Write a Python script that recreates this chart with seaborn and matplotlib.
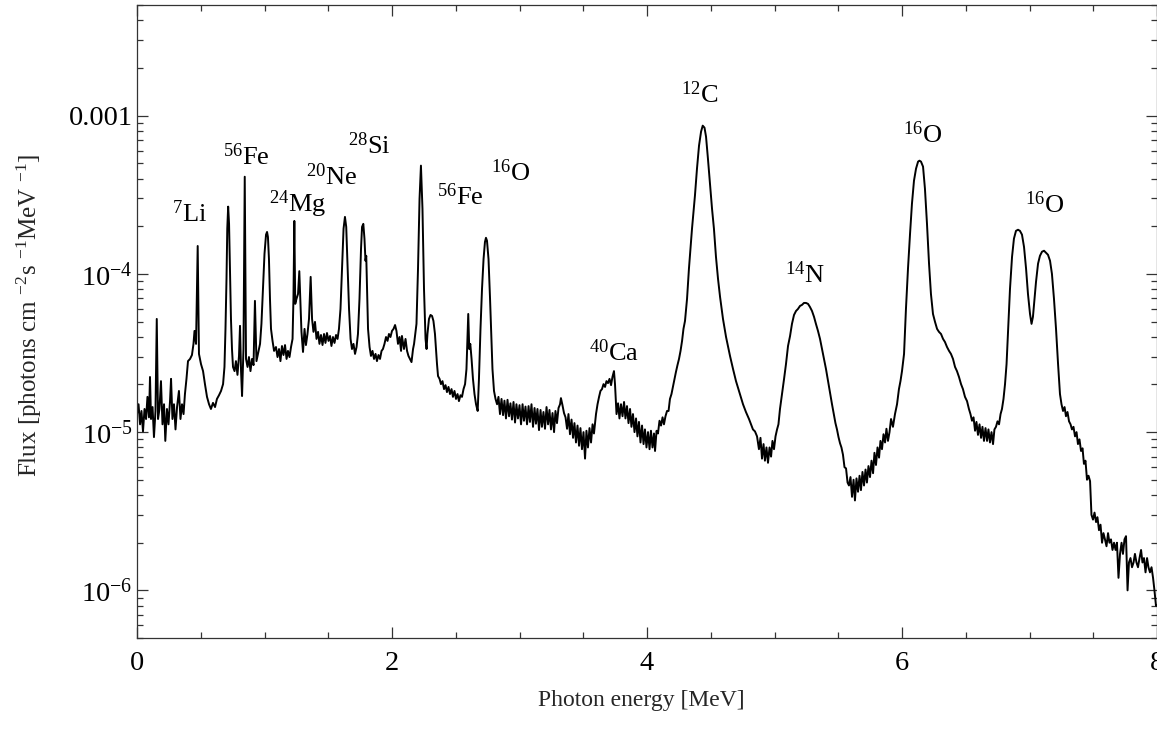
import numpy as np
import pandas as pd
import seaborn as sns
import matplotlib
matplotlib.use("Agg")
import matplotlib.pyplot as plt
from matplotlib.ticker import FixedLocator, MultipleLocator, LogLocator, NullFormatter

# Gamma-ray line spectrum: photon energy [MeV] and flux in units of 1e-5 photons cm^-2 s^-1 MeV^-1
energy_0 = [0.000, 0.012, 0.024, 0.035, 0.047, 0.059, 0.071, 0.082, 0.094, 0.102, 0.110, 0.122, 0.133, 0.145, 0.155, 0.165, 0.176, 0.188, 0.200, 0.212, 0.222, 0.235, 0.247, 0.259, 0.267, 0.278, 0.290, 0.302, 0.314, 0.329, 0.341, 0.353, 0.365, 0.376, 0.388, 0.400, 0.416, 0.431, 0.443, 0.451, 0.463, 0.476, 0.486, 0.502, 0.518, 0.533, 0.549, 0.565, 0.580, 0.596, 0.612, 0.627, 0.643, 0.659, 0.675, 0.686, 0.694, 0.702, 0.708, 0.715, 0.722, 0.729, 0.737, 0.745, 0.753]
flux_0 = [1.30, 1.50, 1.12, 1.36, 1.01, 1.40, 1.21, 1.67, 1.24, 2.23, 1.21, 1.44, 0.93, 1.36, 5.19, 1.21, 1.40, 2.10, 1.12, 1.50, 0.88, 1.40, 1.12, 1.57, 2.17, 1.21, 1.50, 1.04, 1.44, 1.82, 1.21, 1.50, 1.30, 1.74, 2.17, 2.81, 2.90, 3.07, 3.61, 4.36, 3.61, 15.0, 3.12, 2.69, 2.43, 2.01, 1.67, 1.50, 1.40, 1.53, 1.44, 1.62, 1.71, 1.82, 2.01, 2.58, 4.49, 9.30, 19.3, 26.6, 20.7, 10.8, 5.19, 3.35, 2.58]

energy_1 = [0.765, 0.776, 0.788, 0.800, 0.808, 0.816, 0.824, 0.835, 0.845, 0.855, 0.867, 0.878, 0.890, 0.902, 0.914, 0.925, 0.937, 0.949, 0.965, 0.976, 0.988, 1.000, 1.012, 1.020, 1.027, 1.035, 1.043, 1.051, 1.063, 1.075, 1.090, 1.102, 1.114, 1.125, 1.137, 1.149, 1.161, 1.173, 1.184, 1.196, 1.208, 1.220, 1.227, 1.234, 1.241, 1.251, 1.263, 1.273, 1.281]
flux_1 = [2.43, 2.81, 2.30, 3.03, 4.69, 2.43, 1.69, 3.35, 41.1, 2.90, 2.58, 2.98, 2.43, 2.90, 2.65, 6.75, 2.81, 3.12, 3.61, 4.83, 8.04, 13.4, 17.7, 18.4, 17.1, 12.4, 6.95, 4.49, 3.77, 3.26, 3.45, 2.98, 3.35, 2.81, 3.50, 3.07, 3.55, 2.90, 3.26, 2.98, 3.45, 3.88, 6.95, 21.6, 6.46, 6.95, 7.47, 10.4, 6.95]

energy_2 = [1.290, 1.302, 1.314, 1.325, 1.337, 1.349, 1.362, 1.373, 1.384, 1.396, 1.408, 1.420, 1.431, 1.443, 1.455, 1.467, 1.478, 1.490, 1.502, 1.514, 1.525, 1.537, 1.549, 1.561, 1.573, 1.584, 1.596, 1.608, 1.620, 1.631, 1.641, 1.651, 1.663, 1.675, 1.686, 1.698, 1.710, 1.722, 1.733, 1.745, 1.757, 1.765, 1.775, 1.784, 1.792, 1.798, 1.804, 1.812, 1.824, 1.835, 1.847, 1.859, 1.871, 1.882, 1.894, 1.906, 1.918, 1.929, 1.941, 1.953, 1.965, 1.976, 1.988, 2.000, 2.012, 2.024, 2.035, 2.047, 2.059]
flux_2 = [4.30, 3.21, 4.49, 3.55, 4.17, 5.19, 9.57, 5.19, 4.30, 4.97, 3.88, 4.30, 3.61, 4.11, 3.55, 4.17, 3.66, 4.23, 3.77, 4.05, 3.50, 3.99, 3.66, 4.11, 3.88, 4.49, 6.00, 10.8, 19.3, 22.9, 19.8, 11.6, 6.00, 3.88, 3.35, 3.61, 3.12, 3.45, 4.17, 6.95, 14.4, 19.8, 20.7, 16.7, 12.1, 13.0, 8.04, 4.49, 3.45, 3.03, 3.26, 2.90, 3.12, 2.81, 3.07, 2.90, 3.26, 3.35, 3.61, 3.99, 3.77, 4.17, 3.99, 4.36, 4.49, 4.75, 4.36, 3.61, 3.99]

energy_3 = [2.071, 2.078, 2.094, 2.106, 2.118, 2.129, 2.141, 2.153, 2.165, 2.173, 2.192, 2.204, 2.216, 2.227, 2.239, 2.251, 2.263, 2.271, 2.278, 2.290, 2.302, 2.314, 2.325, 2.337, 2.345, 2.353, 2.361, 2.373, 2.384, 2.396, 2.408, 2.420, 2.431, 2.443, 2.455, 2.467, 2.478, 2.490, 2.502, 2.514, 2.525, 2.537, 2.549, 2.561, 2.573, 2.584, 2.598, 2.606, 2.614, 2.624, 2.635, 2.647, 2.659, 2.672, 2.682, 2.694, 2.706, 2.718, 2.729, 2.737, 2.745, 2.757, 2.769, 2.780, 2.788, 2.800, 2.812, 2.824, 2.835]
flux_3 = [3.26, 4.05, 3.35, 3.88, 3.26, 3.03, 2.90, 2.77, 3.35, 3.61, 4.83, 10.8, 29.8, 48.3, 25.8, 8.04, 3.88, 3.35, 4.17, 5.19, 5.50, 5.42, 5.04, 4.17, 3.35, 2.69, 2.26, 2.17, 2.01, 2.10, 1.87, 1.98, 1.79, 1.93, 1.74, 1.87, 1.67, 1.82, 1.62, 1.74, 1.57, 1.71, 1.67, 1.87, 2.01, 2.50, 5.58, 3.35, 3.61, 2.90, 2.17, 1.74, 1.50, 1.36, 2.17, 4.49, 8.04, 12.4, 15.9, 16.9, 16.2, 12.4, 6.95, 3.88, 2.50, 1.82, 1.62, 1.50, 1.67]

energy_4 = [2.847, 2.859, 2.871, 2.882, 2.894, 2.906, 2.918, 2.929, 2.941, 2.953, 2.965, 2.976, 2.988, 3.000, 3.012, 3.024, 3.035, 3.047, 3.059, 3.071, 3.082, 3.094, 3.106, 3.118, 3.129, 3.141, 3.153, 3.165, 3.176, 3.188, 3.200, 3.212, 3.224, 3.235, 3.247, 3.259, 3.271, 3.282, 3.294, 3.306, 3.318, 3.325, 3.337, 3.349, 3.361, 3.373, 3.384, 3.396, 3.408, 3.420, 3.431, 3.443, 3.455, 3.467, 3.478, 3.490, 3.502, 3.514, 3.525, 3.537, 3.549, 3.561, 3.573, 3.584, 3.600, 3.612, 3.624]
flux_4 = [1.30, 1.62, 1.28, 1.58, 1.22, 1.60, 1.26, 1.52, 1.20, 1.55, 1.15, 1.50, 1.22, 1.48, 1.12, 1.50, 1.18, 1.45, 1.12, 1.46, 1.16, 1.50, 1.08, 1.42, 1.13, 1.40, 1.03, 1.38, 1.08, 1.34, 1.05, 1.44, 1.12, 1.38, 1.04, 1.32, 1.00, 1.36, 1.14, 1.42, 1.50, 1.64, 1.48, 1.32, 1.24, 1.05, 1.30, 0.97, 1.20, 0.92, 1.14, 0.86, 1.10, 0.82, 1.06, 0.78, 1.00, 0.68, 1.02, 0.80, 1.06, 0.86, 1.12, 0.98, 1.30, 1.50, 1.67]

energy_5 = [3.635, 3.647, 3.659, 3.671, 3.682, 3.694, 3.706, 3.718, 3.729, 3.741, 3.749, 3.761, 3.773, 3.784, 3.796, 3.808, 3.820, 3.831, 3.843, 3.855, 3.867, 3.878, 3.890, 3.902, 3.914, 3.925, 3.937, 3.949, 3.961, 3.973, 3.984, 3.996, 4.008, 4.020, 4.031, 4.043, 4.055, 4.063, 4.075, 4.086, 4.098, 4.110, 4.122, 4.133, 4.145, 4.157, 4.169, 4.180, 4.192, 4.204, 4.216, 4.227, 4.239, 4.251, 4.263, 4.275, 4.286, 4.298, 4.314, 4.329, 4.353, 4.376, 4.392, 4.408, 4.424, 4.437, 4.451, 4.463, 4.478, 4.494, 4.510, 4.525, 4.541, 4.557, 4.573]
flux_5 = [1.82, 1.87, 2.01, 1.93, 2.10, 2.04, 2.17, 1.98, 2.23, 2.43, 2.01, 1.30, 1.52, 1.22, 1.50, 1.26, 1.55, 1.22, 1.46, 1.14, 1.40, 1.08, 1.30, 1.00, 1.22, 0.94, 1.16, 0.86, 1.10, 0.84, 1.04, 0.80, 1.00, 0.78, 1.02, 0.80, 0.98, 0.76, 1.02, 0.98, 1.18, 1.10, 1.24, 1.12, 1.26, 1.36, 1.36, 1.62, 1.74, 1.95, 2.17, 2.40, 2.65, 2.90, 3.26, 3.77, 4.49, 5.04, 6.95, 10.8, 19.3, 31.2, 46.2, 64.6, 79.2, 86.4, 83.9, 73.6, 53.4, 37.1, 25.8, 19.3, 12.8, 9.30, 7.15]

energy_6 = [4.596, 4.620, 4.651, 4.675, 4.698, 4.729, 4.753, 4.776, 4.800, 4.816, 4.831, 4.847, 4.863, 4.878, 4.890, 4.902, 4.914, 4.925, 4.937, 4.949, 4.961, 4.973, 4.984, 4.996, 5.008, 5.020, 5.031, 5.043, 5.059, 5.075, 5.090, 5.106, 5.122, 5.137, 5.153, 5.169, 5.184, 5.200, 5.216, 5.231, 5.247, 5.263, 5.278, 5.294, 5.310, 5.325, 5.341, 5.357, 5.373, 5.388, 5.404, 5.420, 5.435, 5.451, 5.467, 5.478, 5.490, 5.502, 5.514, 5.525, 5.537, 5.549, 5.561, 5.573, 5.584, 5.596, 5.608, 5.620, 5.631, 5.643, 5.655, 5.667, 5.678, 5.690, 5.702, 5.714, 5.725, 5.737, 5.749, 5.761, 5.773, 5.784, 5.796, 5.808, 5.820, 5.831, 5.843, 5.855, 5.867, 5.878, 5.890, 5.902, 5.914]
flux_6 = [5.19, 3.99, 3.03, 2.50, 2.10, 1.74, 1.50, 1.34, 1.21, 1.12, 1.04, 1.01, 0.94, 0.78, 0.92, 0.68, 0.84, 0.66, 0.80, 0.64, 0.80, 0.70, 0.88, 0.78, 0.94, 1.04, 1.12, 1.40, 1.74, 2.17, 2.69, 3.50, 4.05, 4.83, 5.50, 5.83, 6.00, 6.27, 6.37, 6.55, 6.55, 6.46, 6.18, 5.83, 5.35, 4.83, 4.36, 3.88, 3.35, 2.90, 2.50, 2.10, 1.77, 1.50, 1.28, 1.14, 1.04, 0.93, 0.85, 0.80, 0.72, 0.60, 0.59, 0.48, 0.46, 0.52, 0.39, 0.50, 0.37, 0.51, 0.42, 0.53, 0.43, 0.56, 0.46, 0.58, 0.48, 0.61, 0.52, 0.66, 0.55, 0.74, 0.62, 0.80, 0.69, 0.88, 0.78, 0.97, 0.86, 1.05, 0.88, 1.00, 1.21]

energy_7 = [5.929, 5.945, 5.961, 5.976, 5.988, 6.000, 6.016, 6.031, 6.047, 6.063, 6.078, 6.094, 6.110, 6.126, 6.137, 6.149, 6.165, 6.180, 6.196, 6.212, 6.227, 6.243, 6.259, 6.275, 6.290, 6.306, 6.322, 6.337, 6.353, 6.369, 6.384, 6.400, 6.416, 6.431, 6.447, 6.463, 6.478, 6.494, 6.510, 6.525, 6.537, 6.549, 6.561, 6.573, 6.584, 6.596, 6.608, 6.620, 6.631, 6.643, 6.655, 6.667, 6.678, 6.690, 6.702, 6.714, 6.725, 6.737, 6.749, 6.761, 6.773, 6.784, 6.796, 6.808, 6.820, 6.831, 6.847, 6.863, 6.878, 6.894, 6.910, 6.925, 6.941, 6.957, 6.973, 6.988, 7.004, 7.016, 7.027, 7.039, 7.051, 7.067, 7.082, 7.098, 7.114, 7.129, 7.145, 7.161, 7.176, 7.192, 7.208, 7.224, 7.239]
flux_7 = [1.08, 1.30, 1.50, 1.87, 2.10, 2.43, 3.12, 6.00, 10.8, 17.9, 27.7, 38.8, 46.2, 51.2, 51.9, 51.2, 47.6, 34.5, 20.7, 11.6, 7.47, 5.58, 4.97, 4.49, 4.30, 4.17, 3.88, 3.71, 3.45, 3.26, 3.12, 2.90, 2.58, 2.43, 2.23, 2.01, 1.87, 1.67, 1.57, 1.40, 1.30, 1.18, 1.24, 1.02, 1.16, 0.96, 1.12, 0.92, 1.08, 0.88, 1.06, 0.88, 1.04, 0.86, 1.00, 0.84, 1.04, 1.08, 1.17, 1.12, 1.30, 1.40, 1.62, 2.01, 2.69, 4.17, 8.04, 12.8, 16.7, 18.7, 19.0, 18.7, 17.7, 14.8, 10.8, 7.47, 5.58, 4.83, 5.35, 6.95, 8.89, 11.6, 13.0, 13.8, 14.0, 13.6, 13.2, 12.1, 10.0, 6.95, 4.49, 2.69, 1.74]

energy_8 = [7.251, 7.263, 7.275, 7.286, 7.298, 7.310, 7.322, 7.333, 7.345, 7.357, 7.369, 7.380, 7.392, 7.404, 7.416, 7.427, 7.439, 7.451, 7.463, 7.475, 7.486, 7.498, 7.510, 7.522, 7.533, 7.545, 7.557, 7.569, 7.580, 7.592, 7.604, 7.616, 7.627, 7.639, 7.651, 7.663, 7.675, 7.686, 7.698, 7.710, 7.722, 7.733, 7.745, 7.757, 7.769, 7.780, 7.792, 7.804, 7.816, 7.827, 7.839, 7.851, 7.863, 7.875, 7.886, 7.898, 7.910, 7.922, 7.933, 7.945, 7.957, 7.969, 7.980, 7.992, 8.000]
flux_8 = [1.50, 1.36, 1.44, 1.26, 1.34, 1.17, 1.12, 1.04, 1.08, 0.94, 1.00, 0.84, 0.90, 0.76, 0.79, 0.63, 0.66, 0.50, 0.53, 0.49, 0.30, 0.28, 0.31, 0.27, 0.29, 0.24, 0.26, 0.20, 0.23, 0.21, 0.19, 0.23, 0.20, 0.21, 0.18, 0.20, 0.18, 0.20, 0.12, 0.17, 0.20, 0.17, 0.21, 0.22, 0.10, 0.15, 0.16, 0.14, 0.15, 0.17, 0.15, 0.14, 0.16, 0.18, 0.15, 0.16, 0.13, 0.16, 0.14, 0.13, 0.14, 0.12, 0.10, 0.08, 0.08]

# Line identifications: text, energy [MeV], flux position
line_labels = [r"$^{7}$Li", r"$^{56}$Fe", r"$^{24}$Mg", r"$^{20}$Ne", r"$^{28}$Si", r"$^{56}$Fe",
               r"$^{16}$O", r"$^{40}$Ca", r"$^{12}$C", r"$^{14}$N", r"$^{16}$O", r"$^{16}$O"]
label_energy = [0.41, 0.855, 1.263, 1.529, 1.820, 2.533, 2.933, 3.741, 4.416, 5.239, 6.165, 7.122]
label_flux = [2.4e-4, 5.5e-4, 2.77e-4, 4.11e-4, 6.46e-4, 3.07e-4, 4.36e-4, 3.16e-5, 1.36e-3, 9.86e-5, 7.58e-4, 2.73e-4]

y_ticks = [1e-6, 1e-5, 1e-4, 1e-3]
y_tick_labels = [r"$10^{-6}$", r"$10^{-5}$", r"$10^{-4}$", "0.001"]
x_ticks = [0, 2, 4, 6, 8]

segments = [(energy_0, flux_0), (energy_1, flux_1), (energy_2, flux_2), (energy_3, flux_3),
            (energy_4, flux_4), (energy_5, flux_5), (energy_6, flux_6), (energy_7, flux_7),
            (energy_8, flux_8)]
for e, f in segments:
    assert len(e) == len(f), (len(e), len(f))

spectrum = pd.DataFrame({
    "energy": np.concatenate([e for e, _ in segments]),
    "flux": np.concatenate([f for _, f in segments]) * 1e-5,
})

sns.set_theme(style="ticks")
plt.rcParams["font.family"] = ["Liberation Serif", "DejaVu Serif"]
plt.rcParams["mathtext.fontset"] = "custom"
plt.rcParams["mathtext.rm"] = "Liberation Serif"
plt.rcParams["mathtext.it"] = "Liberation Serif:italic"
plt.rcParams["mathtext.bf"] = "Liberation Serif:bold"

fig = plt.figure(figsize=(11.57, 7.29), dpi=100)
ax = fig.add_axes([137 / 1157, 91 / 729, 1020 / 1157, 633 / 729])

sns.lineplot(data=spectrum, x="energy", y="flux", ax=ax, estimator=None, sort=False,
             color="black", linewidth=1.4)

ax.set_yscale("log")
ax.set_xlim(0, 8)
ax.set_ylim(5e-7, 5e-3)

ax.xaxis.set_major_locator(FixedLocator(x_ticks))
ax.set_xticklabels([str(t) for t in x_ticks])
ax.xaxis.set_minor_locator(MultipleLocator(0.5))
ax.yaxis.set_major_locator(FixedLocator(y_ticks))
ax.set_yticklabels(y_tick_labels)
ax.yaxis.set_minor_locator(LogLocator(base=10, subs=np.arange(2, 10)))
ax.yaxis.set_minor_formatter(NullFormatter())

ax.tick_params(which="both", direction="in", top=True, right=True, colors="#333333",
               labelcolor="black", width=0.9)
ax.tick_params(which="major", length=8, labelsize=20.5)
ax.tick_params(which="minor", length=4)
ax.tick_params(axis="x", which="major", pad=9)
ax.tick_params(axis="y", which="major", pad=3)
for spine in ax.spines.values():
    spine.set_color("#333333")
    spine.set_linewidth(0.9)

ax.set_xlabel("Photon energy [MeV]", fontsize=17)
ax.set_ylabel(r"Flux [photons cm $^{-2}$s $^{-1}$MeV $^{-1}$]", fontsize=18)
ax.xaxis.set_label_coords(0.494, -0.082)
ax.yaxis.set_label_coords(-0.091, 0.509)

for text, xe, yf in zip(line_labels, label_energy, label_flux):
    ax.text(xe, yf, text, ha="center", va="center", fontsize=19, color="black")

fig.savefig("out.png", dpi=100)
